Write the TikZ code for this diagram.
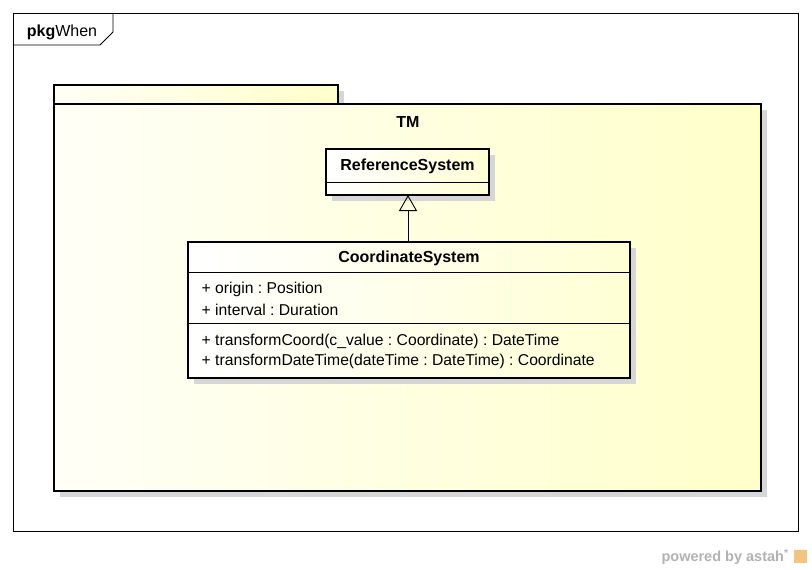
\documentclass[tikz,border=0pt]{standalone}
\usepackage{fontspec}
\setmainfont{Liberation Sans}
\usepackage{tikz}
\usetikzlibrary{positioning,arrows.meta,shadows}
\definecolor{tmlight}{RGB}{255,255,247}
\definecolor{tmdark}{RGB}{255,255,202}
\definecolor{shadowgray}{RGB}{214,214,214}
\definecolor{astahgray}{RGB}{178,178,178}
\definecolor{astahorange}{RGB}{242,196,128}
\frenchspacing

\begin{document}
\begin{tikzpicture}[x=1pt, y=-1pt,
  frameN/.style={draw, line width=0.8pt},
  pkgN/.style={draw, line width=2.8pt, left color=tmlight, right color=tmdark,
               drop shadow={shadow xshift=6pt, shadow yshift=-6pt, fill=shadowgray, opacity=1}},
  classN/.style={draw, rectangle, line width=2.8pt, inner sep=0pt, outer sep=0pt,
                 left color=white, right color=tmdark!80,
                 drop shadow={shadow xshift=6pt, shadow yshift=-6pt, fill=shadowgray, opacity=1}},
  nameT/.style={font=\fontsize{16}{18}\selectfont\bfseries, inner sep=0pt},
  memberT/.style={font=\fontsize{15.7}{18}\selectfont, anchor=west, inner sep=0pt},
  divider/.style={line width=0.9pt},
  generalize/.style={-{Triangle[open, length=16pt, width=18pt, line width=0.9pt]}, line width=1pt}
]
\useasboundingbox (0,0) rectangle (812,570);
% Diagram frame
\draw[frameN, fill=white] (13,13) rectangle (798,531);
\draw[frameN] (13,45) -- (100,45) -- (113,32) -- (113,13);
\node[font=\fontsize{16}{18}\selectfont, inner sep=0pt] (frametitle) at (62,32.5) {\textbf{pkg}When};
% Package TM
\draw[pkgN] (54,85) rectangle (338,104);
\draw[pkgN] (54,104) rectangle (761,491);
\node[nameT] (tmname) at (408,122) {TM};
% ReferenceSystem
\node[classN, minimum width=163pt, minimum height=46pt] (refsys) at (407.5,172) {};
\node[nameT] (refsysname) at (407.5,166.5) {ReferenceSystem};
\draw[divider] (refsys.west |- 0,182) -- (refsys.east |- 0,182);
% CoordinateSystem
\node[classN, minimum width=442pt, minimum height=136pt] (coordsys) at (409,310) {};
\node[nameT] (coordsysname) at (409,258.5) {CoordinateSystem};
\draw[divider] (coordsys.west |- 0,272) -- (coordsys.east |- 0,272);
\draw[divider] (coordsys.west |- 0,323) -- (coordsys.east |- 0,323);
% Attributes
\node[memberT] (origin) at (201.5,289.5) {+ origin : Position};
\node[memberT] (interval) at (201.5,309.5) {+ interval : Duration};
% Operations
\node[memberT] (transcoord) at (201.5,341) {+ transformCoord(c\_value : Coordinate) : DateTime};
\node[memberT] (transdate) at (201.5,361) {+ transformDateTime(dateTime : DateTime) : Coordinate};
% Generalization
\draw[generalize] (coordsys.north -| 408,0) -- (refsys.south -| 408,0);
% Watermark
\node[font=\fontsize{14.5}{16}\selectfont\bfseries, text=astahgray, inner sep=0pt] (powered) at (725,557) {powered by astah\textsuperscript{*}};
\node[fill=astahorange, minimum size=13pt, inner sep=0pt] (astahlogo) at (800,556) {};
\end{tikzpicture}
\end{document}
